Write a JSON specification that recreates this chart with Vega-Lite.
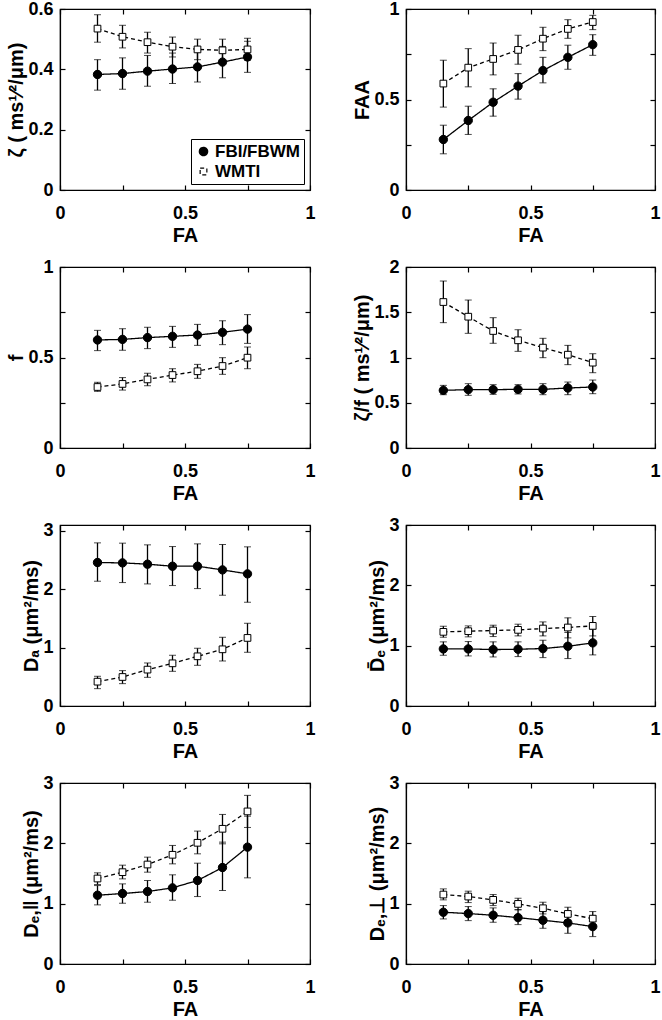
{
"$schema": "https://vega.github.io/schema/vega-lite/v6.json",
"padding": {"left": 6, "top": -1, "right": 0, "bottom": 0},
"datasets": {"d": [
{"p":"z","s":"FBI/FBWM","fa":0.15,"v":0.383,"lo":0.331,"hi":0.432},
{"p":"z","s":"FBI/FBWM","fa":0.25,"v":0.386,"lo":0.334,"hi":0.438},
{"p":"z","s":"FBI/FBWM","fa":0.35,"v":0.394,"lo":0.344,"hi":0.446},
{"p":"z","s":"FBI/FBWM","fa":0.45,"v":0.401,"lo":0.353,"hi":0.454},
{"p":"z","s":"FBI/FBWM","fa":0.55,"v":0.408,"lo":0.358,"hi":0.46},
{"p":"z","s":"FBI/FBWM","fa":0.65,"v":0.424,"lo":0.372,"hi":0.476},
{"p":"z","s":"FBI/FBWM","fa":0.75,"v":0.441,"lo":0.39,"hi":0.493},
{"p":"z","s":"WMTI","fa":0.15,"v":0.535,"lo":0.49,"hi":0.581},
{"p":"z","s":"WMTI","fa":0.25,"v":0.508,"lo":0.471,"hi":0.546},
{"p":"z","s":"WMTI","fa":0.35,"v":0.49,"lo":0.454,"hi":0.523},
{"p":"z","s":"WMTI","fa":0.45,"v":0.475,"lo":0.441,"hi":0.507},
{"p":"z","s":"WMTI","fa":0.55,"v":0.466,"lo":0.432,"hi":0.5},
{"p":"z","s":"WMTI","fa":0.65,"v":0.463,"lo":0.426,"hi":0.5},
{"p":"z","s":"WMTI","fa":0.75,"v":0.466,"lo":0.43,"hi":0.503},
{"p":"faa","s":"FBI/FBWM","fa":0.15,"v":0.279,"lo":0.2,"hi":0.358},
{"p":"faa","s":"FBI/FBWM","fa":0.25,"v":0.384,"lo":0.307,"hi":0.463},
{"p":"faa","s":"FBI/FBWM","fa":0.35,"v":0.485,"lo":0.408,"hi":0.559},
{"p":"faa","s":"FBI/FBWM","fa":0.45,"v":0.574,"lo":0.502,"hi":0.643},
{"p":"faa","s":"FBI/FBWM","fa":0.55,"v":0.66,"lo":0.592,"hi":0.733},
{"p":"faa","s":"FBI/FBWM","fa":0.65,"v":0.733,"lo":0.667,"hi":0.8},
{"p":"faa","s":"FBI/FBWM","fa":0.75,"v":0.803,"lo":0.744,"hi":0.858},
{"p":"faa","s":"WMTI","fa":0.15,"v":0.588,"lo":0.458,"hi":0.717},
{"p":"faa","s":"WMTI","fa":0.25,"v":0.676,"lo":0.57,"hi":0.781},
{"p":"faa","s":"WMTI","fa":0.35,"v":0.724,"lo":0.636,"hi":0.812},
{"p":"faa","s":"WMTI","fa":0.45,"v":0.774,"lo":0.695,"hi":0.855},
{"p":"faa","s":"WMTI","fa":0.55,"v":0.836,"lo":0.77,"hi":0.899},
{"p":"faa","s":"WMTI","fa":0.65,"v":0.89,"lo":0.838,"hi":0.941},
{"p":"faa","s":"WMTI","fa":0.75,"v":0.928,"lo":0.886,"hi":0.965},
{"p":"f","s":"FBI/FBWM","fa":0.15,"v":0.597,"lo":0.538,"hi":0.65},
{"p":"f","s":"FBI/FBWM","fa":0.25,"v":0.6,"lo":0.54,"hi":0.659},
{"p":"f","s":"FBI/FBWM","fa":0.35,"v":0.61,"lo":0.549,"hi":0.667},
{"p":"f","s":"FBI/FBWM","fa":0.45,"v":0.617,"lo":0.556,"hi":0.672},
{"p":"f","s":"FBI/FBWM","fa":0.55,"v":0.624,"lo":0.567,"hi":0.683},
{"p":"f","s":"FBI/FBWM","fa":0.65,"v":0.639,"lo":0.571,"hi":0.703},
{"p":"f","s":"FBI/FBWM","fa":0.75,"v":0.657,"lo":0.578,"hi":0.737},
{"p":"f","s":"WMTI","fa":0.15,"v":0.337,"lo":0.313,"hi":0.363},
{"p":"f","s":"WMTI","fa":0.25,"v":0.354,"lo":0.32,"hi":0.389},
{"p":"f","s":"WMTI","fa":0.35,"v":0.379,"lo":0.344,"hi":0.413},
{"p":"f","s":"WMTI","fa":0.45,"v":0.403,"lo":0.365,"hi":0.438},
{"p":"f","s":"WMTI","fa":0.55,"v":0.424,"lo":0.385,"hi":0.462},
{"p":"f","s":"WMTI","fa":0.65,"v":0.453,"lo":0.407,"hi":0.499},
{"p":"f","s":"WMTI","fa":0.75,"v":0.499,"lo":0.438,"hi":0.558},
{"p":"zf","s":"FBI/FBWM","fa":0.15,"v":0.637,"lo":0.589,"hi":0.692},
{"p":"zf","s":"FBI/FBWM","fa":0.25,"v":0.645,"lo":0.582,"hi":0.711},
{"p":"zf","s":"FBI/FBWM","fa":0.35,"v":0.645,"lo":0.593,"hi":0.7},
{"p":"zf","s":"FBI/FBWM","fa":0.45,"v":0.648,"lo":0.597,"hi":0.7},
{"p":"zf","s":"FBI/FBWM","fa":0.55,"v":0.648,"lo":0.589,"hi":0.711},
{"p":"zf","s":"FBI/FBWM","fa":0.65,"v":0.663,"lo":0.589,"hi":0.729},
{"p":"zf","s":"FBI/FBWM","fa":0.75,"v":0.674,"lo":0.6,"hi":0.751},
{"p":"zf","s":"WMTI","fa":0.15,"v":1.613,"lo":1.385,"hi":1.845},
{"p":"zf","s":"WMTI","fa":0.25,"v":1.451,"lo":1.267,"hi":1.635},
{"p":"zf","s":"WMTI","fa":0.35,"v":1.293,"lo":1.157,"hi":1.44},
{"p":"zf","s":"WMTI","fa":0.45,"v":1.19,"lo":1.068,"hi":1.307},
{"p":"zf","s":"WMTI","fa":0.55,"v":1.109,"lo":0.998,"hi":1.212},
{"p":"zf","s":"WMTI","fa":0.65,"v":1.031,"lo":0.921,"hi":1.134},
{"p":"zf","s":"WMTI","fa":0.75,"v":0.943,"lo":0.832,"hi":1.042},
{"p":"da","s":"FBI/FBWM","fa":0.15,"v":2.457,"lo":2.137,"hi":2.794},
{"p":"da","s":"FBI/FBWM","fa":0.25,"v":2.451,"lo":2.114,"hi":2.789},
{"p":"da","s":"FBI/FBWM","fa":0.35,"v":2.429,"lo":2.091,"hi":2.76},
{"p":"da","s":"FBI/FBWM","fa":0.45,"v":2.394,"lo":2.063,"hi":2.731},
{"p":"da","s":"FBI/FBWM","fa":0.55,"v":2.394,"lo":2.011,"hi":2.777},
{"p":"da","s":"FBI/FBWM","fa":0.65,"v":2.331,"lo":1.897,"hi":2.766},
{"p":"da","s":"FBI/FBWM","fa":0.75,"v":2.263,"lo":1.777,"hi":2.726},
{"p":"da","s":"WMTI","fa":0.15,"v":0.417,"lo":0.297,"hi":0.509},
{"p":"da","s":"WMTI","fa":0.25,"v":0.497,"lo":0.383,"hi":0.606},
{"p":"da","s":"WMTI","fa":0.35,"v":0.623,"lo":0.491,"hi":0.737},
{"p":"da","s":"WMTI","fa":0.45,"v":0.731,"lo":0.594,"hi":0.869},
{"p":"da","s":"WMTI","fa":0.55,"v":0.851,"lo":0.697,"hi":0.989},
{"p":"da","s":"WMTI","fa":0.65,"v":0.971,"lo":0.771,"hi":1.177},
{"p":"da","s":"WMTI","fa":0.75,"v":1.166,"lo":0.92,"hi":1.417},
{"p":"de","s":"FBI/FBWM","fa":0.15,"v":0.946,"lo":0.841,"hi":1.063},
{"p":"de","s":"FBI/FBWM","fa":0.25,"v":0.946,"lo":0.83,"hi":1.068},
{"p":"de","s":"FBI/FBWM","fa":0.35,"v":0.935,"lo":0.813,"hi":1.063},
{"p":"de","s":"FBI/FBWM","fa":0.45,"v":0.941,"lo":0.819,"hi":1.063},
{"p":"de","s":"FBI/FBWM","fa":0.55,"v":0.952,"lo":0.802,"hi":1.09},
{"p":"de","s":"FBI/FBWM","fa":0.65,"v":0.99,"lo":0.786,"hi":1.218},
{"p":"de","s":"FBI/FBWM","fa":0.75,"v":1.046,"lo":0.847,"hi":1.273},
{"p":"de","s":"WMTI","fa":0.15,"v":1.229,"lo":1.14,"hi":1.322},
{"p":"de","s":"WMTI","fa":0.25,"v":1.24,"lo":1.146,"hi":1.328},
{"p":"de","s":"WMTI","fa":0.35,"v":1.251,"lo":1.151,"hi":1.339},
{"p":"de","s":"WMTI","fa":0.45,"v":1.262,"lo":1.162,"hi":1.356},
{"p":"de","s":"WMTI","fa":0.55,"v":1.284,"lo":1.162,"hi":1.394},
{"p":"de","s":"WMTI","fa":0.65,"v":1.301,"lo":1.129,"hi":1.461},
{"p":"de","s":"WMTI","fa":0.75,"v":1.328,"lo":1.162,"hi":1.483},
{"p":"dpar","s":"FBI/FBWM","fa":0.15,"v":1.14,"lo":0.98,"hi":1.3},
{"p":"dpar","s":"FBI/FBWM","fa":0.25,"v":1.168,"lo":1.007,"hi":1.328},
{"p":"dpar","s":"FBI/FBWM","fa":0.35,"v":1.201,"lo":1.024,"hi":1.384},
{"p":"dpar","s":"FBI/FBWM","fa":0.45,"v":1.262,"lo":1.057,"hi":1.478},
{"p":"dpar","s":"FBI/FBWM","fa":0.55,"v":1.384,"lo":1.118,"hi":1.671},
{"p":"dpar","s":"FBI/FBWM","fa":0.65,"v":1.599,"lo":1.218,"hi":2.02},
{"p":"dpar","s":"FBI/FBWM","fa":0.75,"v":1.937,"lo":1.428,"hi":2.45},
{"p":"dpar","s":"WMTI","fa":0.15,"v":1.417,"lo":1.317,"hi":1.511},
{"p":"dpar","s":"WMTI","fa":0.25,"v":1.522,"lo":1.411,"hi":1.638},
{"p":"dpar","s":"WMTI","fa":0.35,"v":1.649,"lo":1.522,"hi":1.771},
{"p":"dpar","s":"WMTI","fa":0.45,"v":1.81,"lo":1.66,"hi":1.965},
{"p":"dpar","s":"WMTI","fa":0.55,"v":2.009,"lo":1.826,"hi":2.203},
{"p":"dpar","s":"WMTI","fa":0.65,"v":2.241,"lo":1.992,"hi":2.479},
{"p":"dpar","s":"WMTI","fa":0.75,"v":2.529,"lo":2.263,"hi":2.795},
{"p":"dperp","s":"FBI/FBWM","fa":0.15,"v":0.858,"lo":0.747,"hi":0.968},
{"p":"dperp","s":"FBI/FBWM","fa":0.25,"v":0.836,"lo":0.719,"hi":0.952},
{"p":"dperp","s":"FBI/FBWM","fa":0.35,"v":0.808,"lo":0.692,"hi":0.93},
{"p":"dperp","s":"FBI/FBWM","fa":0.45,"v":0.769,"lo":0.653,"hi":0.902},
{"p":"dperp","s":"FBI/FBWM","fa":0.55,"v":0.725,"lo":0.592,"hi":0.885},
{"p":"dperp","s":"FBI/FBWM","fa":0.65,"v":0.681,"lo":0.509,"hi":0.874},
{"p":"dperp","s":"FBI/FBWM","fa":0.75,"v":0.62,"lo":0.454,"hi":0.802},
{"p":"dperp","s":"WMTI","fa":0.15,"v":1.151,"lo":1.063,"hi":1.245},
{"p":"dperp","s":"WMTI","fa":0.25,"v":1.118,"lo":1.018,"hi":1.207},
{"p":"dperp","s":"WMTI","fa":0.35,"v":1.063,"lo":0.968,"hi":1.151},
{"p":"dperp","s":"WMTI","fa":0.45,"v":0.996,"lo":0.897,"hi":1.09},
{"p":"dperp","s":"WMTI","fa":0.55,"v":0.924,"lo":0.83,"hi":1.024},
{"p":"dperp","s":"WMTI","fa":0.65,"v":0.83,"lo":0.73,"hi":0.941},
{"p":"dperp","s":"WMTI","fa":0.75,"v":0.752,"lo":0.642,"hi":0.869}
]},
"data": {"name": "d"},
"columns": 2,
"spacing": {"row": 11, "column": 36},
"resolve": {"legend": {"shape": "independent", "fill": "independent", "size": "independent", "strokeDash": "independent"}},
"concat": [
{"width":250,"height":181,"transform":[{"filter":"datum.p == 'z'"}],"layer":[
 {"mark":{"type":"errorbar","ticks":{"size":7,"color":"black"},"rule":{"color":"black","strokeWidth":1.3}},"encoding":{
  "x":{"field":"fa","type":"quantitative","scale":{"domain":[0,1],"nice":false,"padding":0},"axis":{"orient":"bottom","values":[0,0.25,0.5,0.75,1],"format":"~g","labelExpr":"(datum.value*2) % 1 == 0 ? datum.label : ''","title":"FA"}},
  "y":{"field":"lo","type":"quantitative","scale":{"domain":[0,0.6],"nice":false,"padding":0},"axis":{"orient":"left","values":[0,0.2,0.4,0.6],"format":"~g","title":"ζ ( ms¹⁄²/μm)"}},
  "y2":{"field":"hi"},"detail":{"field":"s"}}},
 {"mark":{"type":"line","color":"black","strokeWidth":1.3},"encoding":{
  "x":{"field":"fa","type":"quantitative","axis":{"orient":"top","values":[0,0.25,0.5,0.75,1],"labels":false,"title":null,"domain":false,"minExtent":0}},
  "y":{"field":"v","type":"quantitative","axis":{"orient":"right","values":[0,0.2,0.4,0.6],"labels":false,"title":null,"domain":false,"minExtent":0}},
  "strokeDash":{"field":"s","type":"nominal","scale":{"domain":["FBI/FBWM","WMTI"],"range":[[1,0],[4,3]]},"legend":{"orient":"bottom-right","title":null,"offset":6,"padding":4,"strokeColor":"black","fillColor":"white","labelFont":"Liberation Sans","labelFontSize":17,"labelFontWeight":"bold","labelColor":"black","symbolSize":324,"symbolStrokeWidth":1.2,"rowPadding":2,"labelOffset":3}}}},
 {"mark":{"type":"point","filled":true,"stroke":"black","strokeWidth":1,"opacity":1},"encoding":{
  "x":{"field":"fa","type":"quantitative","axis":null},"y":{"field":"v","type":"quantitative","axis":null},
  "shape":{"field":"s","type":"nominal","scale":{"domain":["FBI/FBWM","WMTI"],"range":["circle","square"]},"legend":{"orient":"bottom-right","title":null,"offset":6,"padding":4,"strokeColor":"black","fillColor":"white","labelFont":"Liberation Sans","labelFontSize":17,"labelFontWeight":"bold","labelColor":"black","symbolSize":324,"symbolStrokeWidth":1.2,"rowPadding":2,"labelOffset":3}},
  "fill":{"field":"s","type":"nominal","scale":{"domain":["FBI/FBWM","WMTI"],"range":["black","white"]},"legend":{"orient":"bottom-right","title":null,"offset":6,"padding":4,"strokeColor":"black","fillColor":"white","labelFont":"Liberation Sans","labelFontSize":17,"labelFontWeight":"bold","labelColor":"black","symbolSize":324,"symbolStrokeWidth":1.2,"rowPadding":2,"labelOffset":3}},
  "size":{"field":"s","type":"nominal","scale":{"type":"ordinal","domain":["FBI/FBWM","WMTI"],"range":[70,45]},"legend":{"orient":"bottom-right","title":null,"offset":6,"padding":4,"strokeColor":"black","fillColor":"white","labelFont":"Liberation Sans","labelFontSize":17,"labelFontWeight":"bold","labelColor":"black","symbolSize":324,"symbolStrokeWidth":1.2,"rowPadding":2,"labelOffset":3}}}}
]},
{"width":249,"height":181,"transform":[{"filter":"datum.p == 'faa'"}],"layer":[
 {"mark":{"type":"errorbar","ticks":{"size":7,"color":"black"},"rule":{"color":"black","strokeWidth":1.3}},"encoding":{
  "x":{"field":"fa","type":"quantitative","scale":{"domain":[0,1],"nice":false,"padding":0},"axis":{"orient":"bottom","values":[0,0.25,0.5,0.75,1],"format":"~g","labelExpr":"(datum.value*2) % 1 == 0 ? datum.label : ''","title":"FA"}},
  "y":{"field":"lo","type":"quantitative","scale":{"domain":[0,1],"nice":false,"padding":0},"axis":{"orient":"left","values":[0,0.25,0.5,0.75,1],"format":"~g","labelExpr":"(datum.value*2) % 1 == 0 ? datum.label : ''","title":"FAA"}},
  "y2":{"field":"hi"},"detail":{"field":"s"}}},
 {"mark":{"type":"line","color":"black","strokeWidth":1.3},"encoding":{
  "x":{"field":"fa","type":"quantitative","axis":{"orient":"top","values":[0,0.25,0.5,0.75,1],"labels":false,"title":null,"domain":false,"minExtent":0}},
  "y":{"field":"v","type":"quantitative","axis":{"orient":"right","values":[0,0.25,0.5,0.75,1],"labels":false,"title":null,"domain":false,"minExtent":0}},
  "strokeDash":{"field":"s","type":"nominal","scale":{"domain":["FBI/FBWM","WMTI"],"range":[[1,0],[4,3]]},"legend":null}}},
 {"mark":{"type":"point","filled":true,"stroke":"black","strokeWidth":1,"opacity":1},"encoding":{
  "x":{"field":"fa","type":"quantitative","axis":null},"y":{"field":"v","type":"quantitative","axis":null},
  "shape":{"field":"s","type":"nominal","scale":{"domain":["FBI/FBWM","WMTI"],"range":["circle","square"]},"legend":null},
  "fill":{"field":"s","type":"nominal","scale":{"domain":["FBI/FBWM","WMTI"],"range":["black","white"]},"legend":null},
  "size":{"field":"s","type":"nominal","scale":{"type":"ordinal","domain":["FBI/FBWM","WMTI"],"range":[70,45]},"legend":null}}}
]},
{"width":250,"height":181,"transform":[{"filter":"datum.p == 'f'"}],"layer":[
 {"mark":{"type":"errorbar","ticks":{"size":7,"color":"black"},"rule":{"color":"black","strokeWidth":1.3}},"encoding":{
  "x":{"field":"fa","type":"quantitative","scale":{"domain":[0,1],"nice":false,"padding":0},"axis":{"orient":"bottom","values":[0,0.25,0.5,0.75,1],"format":"~g","labelExpr":"(datum.value*2) % 1 == 0 ? datum.label : ''","title":"FA"}},
  "y":{"field":"lo","type":"quantitative","scale":{"domain":[0,1],"nice":false,"padding":0},"axis":{"orient":"left","values":[0,0.25,0.5,0.75,1],"format":"~g","labelExpr":"(datum.value*2) % 1 == 0 ? datum.label : ''","title":"f"}},
  "y2":{"field":"hi"},"detail":{"field":"s"}}},
 {"mark":{"type":"line","color":"black","strokeWidth":1.3},"encoding":{
  "x":{"field":"fa","type":"quantitative","axis":{"orient":"top","values":[0,0.25,0.5,0.75,1],"labels":false,"title":null,"domain":false,"minExtent":0}},
  "y":{"field":"v","type":"quantitative","axis":{"orient":"right","values":[0,0.25,0.5,0.75,1],"labels":false,"title":null,"domain":false,"minExtent":0}},
  "strokeDash":{"field":"s","type":"nominal","scale":{"domain":["FBI/FBWM","WMTI"],"range":[[1,0],[4,3]]},"legend":null}}},
 {"mark":{"type":"point","filled":true,"stroke":"black","strokeWidth":1,"opacity":1},"encoding":{
  "x":{"field":"fa","type":"quantitative","axis":null},"y":{"field":"v","type":"quantitative","axis":null},
  "shape":{"field":"s","type":"nominal","scale":{"domain":["FBI/FBWM","WMTI"],"range":["circle","square"]},"legend":null},
  "fill":{"field":"s","type":"nominal","scale":{"domain":["FBI/FBWM","WMTI"],"range":["black","white"]},"legend":null},
  "size":{"field":"s","type":"nominal","scale":{"type":"ordinal","domain":["FBI/FBWM","WMTI"],"range":[70,45]},"legend":null}}}
]},
{"width":249,"height":181,"transform":[{"filter":"datum.p == 'zf'"}],"layer":[
 {"mark":{"type":"errorbar","ticks":{"size":7,"color":"black"},"rule":{"color":"black","strokeWidth":1.3}},"encoding":{
  "x":{"field":"fa","type":"quantitative","scale":{"domain":[0,1],"nice":false,"padding":0},"axis":{"orient":"bottom","values":[0,0.25,0.5,0.75,1],"format":"~g","labelExpr":"(datum.value*2) % 1 == 0 ? datum.label : ''","title":"FA"}},
  "y":{"field":"lo","type":"quantitative","scale":{"domain":[0,2],"nice":false,"padding":0},"axis":{"orient":"left","values":[0,0.5,1,1.5,2],"format":"~g","title":"ζ/f ( ms¹⁄²/μm)"}},
  "y2":{"field":"hi"},"detail":{"field":"s"}}},
 {"mark":{"type":"line","color":"black","strokeWidth":1.3},"encoding":{
  "x":{"field":"fa","type":"quantitative","axis":{"orient":"top","values":[0,0.25,0.5,0.75,1],"labels":false,"title":null,"domain":false,"minExtent":0}},
  "y":{"field":"v","type":"quantitative","axis":{"orient":"right","values":[0,0.5,1,1.5,2],"labels":false,"title":null,"domain":false,"minExtent":0}},
  "strokeDash":{"field":"s","type":"nominal","scale":{"domain":["FBI/FBWM","WMTI"],"range":[[1,0],[4,3]]},"legend":null}}},
 {"mark":{"type":"point","filled":true,"stroke":"black","strokeWidth":1,"opacity":1},"encoding":{
  "x":{"field":"fa","type":"quantitative","axis":null},"y":{"field":"v","type":"quantitative","axis":null},
  "shape":{"field":"s","type":"nominal","scale":{"domain":["FBI/FBWM","WMTI"],"range":["circle","square"]},"legend":null},
  "fill":{"field":"s","type":"nominal","scale":{"domain":["FBI/FBWM","WMTI"],"range":["black","white"]},"legend":null},
  "size":{"field":"s","type":"nominal","scale":{"type":"ordinal","domain":["FBI/FBWM","WMTI"],"range":[70,45]},"legend":null}}}
]},
{"width":250,"height":181,"transform":[{"filter":"datum.p == 'da'"}],"layer":[
 {"mark":{"type":"errorbar","ticks":{"size":7,"color":"black"},"rule":{"color":"black","strokeWidth":1.3}},"encoding":{
  "x":{"field":"fa","type":"quantitative","scale":{"domain":[0,1],"nice":false,"padding":0},"axis":{"orient":"bottom","values":[0,0.25,0.5,0.75,1],"format":"~g","labelExpr":"(datum.value*2) % 1 == 0 ? datum.label : ''","title":"FA"}},
  "y":{"field":"lo","type":"quantitative","scale":{"domain":[0,3.1],"nice":false,"padding":0},"axis":{"orient":"left","values":[0,1,2,3],"format":"~g","title":"Dₐ (μm²/ms)"}},
  "y2":{"field":"hi"},"detail":{"field":"s"}}},
 {"mark":{"type":"line","color":"black","strokeWidth":1.3},"encoding":{
  "x":{"field":"fa","type":"quantitative","axis":{"orient":"top","values":[0,0.25,0.5,0.75,1],"labels":false,"title":null,"domain":false,"minExtent":0}},
  "y":{"field":"v","type":"quantitative","axis":{"orient":"right","values":[0,1,2,3],"labels":false,"title":null,"domain":false,"minExtent":0}},
  "strokeDash":{"field":"s","type":"nominal","scale":{"domain":["FBI/FBWM","WMTI"],"range":[[1,0],[4,3]]},"legend":null}}},
 {"mark":{"type":"point","filled":true,"stroke":"black","strokeWidth":1,"opacity":1},"encoding":{
  "x":{"field":"fa","type":"quantitative","axis":null},"y":{"field":"v","type":"quantitative","axis":null},
  "shape":{"field":"s","type":"nominal","scale":{"domain":["FBI/FBWM","WMTI"],"range":["circle","square"]},"legend":null},
  "fill":{"field":"s","type":"nominal","scale":{"domain":["FBI/FBWM","WMTI"],"range":["black","white"]},"legend":null},
  "size":{"field":"s","type":"nominal","scale":{"type":"ordinal","domain":["FBI/FBWM","WMTI"],"range":[70,45]},"legend":null}}}
]},
{"width":249,"height":181,"transform":[{"filter":"datum.p == 'de'"}],"layer":[
 {"mark":{"type":"errorbar","ticks":{"size":7,"color":"black"},"rule":{"color":"black","strokeWidth":1.3}},"encoding":{
  "x":{"field":"fa","type":"quantitative","scale":{"domain":[0,1],"nice":false,"padding":0},"axis":{"orient":"bottom","values":[0,0.25,0.5,0.75,1],"format":"~g","labelExpr":"(datum.value*2) % 1 == 0 ? datum.label : ''","title":"FA"}},
  "y":{"field":"lo","type":"quantitative","scale":{"domain":[0,3],"nice":false,"padding":0},"axis":{"orient":"left","values":[0,1,2,3],"format":"~g","title":"D̄ₑ (μm²/ms)"}},
  "y2":{"field":"hi"},"detail":{"field":"s"}}},
 {"mark":{"type":"line","color":"black","strokeWidth":1.3},"encoding":{
  "x":{"field":"fa","type":"quantitative","axis":{"orient":"top","values":[0,0.25,0.5,0.75,1],"labels":false,"title":null,"domain":false,"minExtent":0}},
  "y":{"field":"v","type":"quantitative","axis":{"orient":"right","values":[0,1,2,3],"labels":false,"title":null,"domain":false,"minExtent":0}},
  "strokeDash":{"field":"s","type":"nominal","scale":{"domain":["FBI/FBWM","WMTI"],"range":[[1,0],[4,3]]},"legend":null}}},
 {"mark":{"type":"point","filled":true,"stroke":"black","strokeWidth":1,"opacity":1},"encoding":{
  "x":{"field":"fa","type":"quantitative","axis":null},"y":{"field":"v","type":"quantitative","axis":null},
  "shape":{"field":"s","type":"nominal","scale":{"domain":["FBI/FBWM","WMTI"],"range":["circle","square"]},"legend":null},
  "fill":{"field":"s","type":"nominal","scale":{"domain":["FBI/FBWM","WMTI"],"range":["black","white"]},"legend":null},
  "size":{"field":"s","type":"nominal","scale":{"type":"ordinal","domain":["FBI/FBWM","WMTI"],"range":[70,45]},"legend":null}}}
]},
{"width":250,"height":181,"transform":[{"filter":"datum.p == 'dpar'"}],"layer":[
 {"mark":{"type":"errorbar","ticks":{"size":7,"color":"black"},"rule":{"color":"black","strokeWidth":1.3}},"encoding":{
  "x":{"field":"fa","type":"quantitative","scale":{"domain":[0,1],"nice":false,"padding":0},"axis":{"orient":"bottom","values":[0,0.25,0.5,0.75,1],"format":"~g","labelExpr":"(datum.value*2) % 1 == 0 ? datum.label : ''","title":"FA"}},
  "y":{"field":"lo","type":"quantitative","scale":{"domain":[0,3],"nice":false,"padding":0},"axis":{"orient":"left","values":[0,1,2,3],"format":"~g","title":"Dₑ,‖ (μm²/ms)"}},
  "y2":{"field":"hi"},"detail":{"field":"s"}}},
 {"mark":{"type":"line","color":"black","strokeWidth":1.3},"encoding":{
  "x":{"field":"fa","type":"quantitative","axis":{"orient":"top","values":[0,0.25,0.5,0.75,1],"labels":false,"title":null,"domain":false,"minExtent":0}},
  "y":{"field":"v","type":"quantitative","axis":{"orient":"right","values":[0,1,2,3],"labels":false,"title":null,"domain":false,"minExtent":0}},
  "strokeDash":{"field":"s","type":"nominal","scale":{"domain":["FBI/FBWM","WMTI"],"range":[[1,0],[4,3]]},"legend":null}}},
 {"mark":{"type":"point","filled":true,"stroke":"black","strokeWidth":1,"opacity":1},"encoding":{
  "x":{"field":"fa","type":"quantitative","axis":null},"y":{"field":"v","type":"quantitative","axis":null},
  "shape":{"field":"s","type":"nominal","scale":{"domain":["FBI/FBWM","WMTI"],"range":["circle","square"]},"legend":null},
  "fill":{"field":"s","type":"nominal","scale":{"domain":["FBI/FBWM","WMTI"],"range":["black","white"]},"legend":null},
  "size":{"field":"s","type":"nominal","scale":{"type":"ordinal","domain":["FBI/FBWM","WMTI"],"range":[70,45]},"legend":null}}}
]},
{"width":249,"height":181,"transform":[{"filter":"datum.p == 'dperp'"}],"layer":[
 {"mark":{"type":"errorbar","ticks":{"size":7,"color":"black"},"rule":{"color":"black","strokeWidth":1.3}},"encoding":{
  "x":{"field":"fa","type":"quantitative","scale":{"domain":[0,1],"nice":false,"padding":0},"axis":{"orient":"bottom","values":[0,0.25,0.5,0.75,1],"format":"~g","labelExpr":"(datum.value*2) % 1 == 0 ? datum.label : ''","title":"FA"}},
  "y":{"field":"lo","type":"quantitative","scale":{"domain":[0,3],"nice":false,"padding":0},"axis":{"orient":"left","values":[0,1,2,3],"format":"~g","title":"Dₑ,⊥ (μm²/ms)"}},
  "y2":{"field":"hi"},"detail":{"field":"s"}}},
 {"mark":{"type":"line","color":"black","strokeWidth":1.3},"encoding":{
  "x":{"field":"fa","type":"quantitative","axis":{"orient":"top","values":[0,0.25,0.5,0.75,1],"labels":false,"title":null,"domain":false,"minExtent":0}},
  "y":{"field":"v","type":"quantitative","axis":{"orient":"right","values":[0,1,2,3],"labels":false,"title":null,"domain":false,"minExtent":0}},
  "strokeDash":{"field":"s","type":"nominal","scale":{"domain":["FBI/FBWM","WMTI"],"range":[[1,0],[4,3]]},"legend":null}}},
 {"mark":{"type":"point","filled":true,"stroke":"black","strokeWidth":1,"opacity":1},"encoding":{
  "x":{"field":"fa","type":"quantitative","axis":null},"y":{"field":"v","type":"quantitative","axis":null},
  "shape":{"field":"s","type":"nominal","scale":{"domain":["FBI/FBWM","WMTI"],"range":["circle","square"]},"legend":null},
  "fill":{"field":"s","type":"nominal","scale":{"domain":["FBI/FBWM","WMTI"],"range":["black","white"]},"legend":null},
  "size":{"field":"s","type":"nominal","scale":{"type":"ordinal","domain":["FBI/FBWM","WMTI"],"range":[70,45]},"legend":null}}}
]}
],
"config": {
 "font": "Liberation Sans",
 "view": {"stroke": "black", "strokeWidth": 1.2},
 "axis": {"labelFont": "Liberation Sans", "labelFontSize": 18, "labelFontWeight": "bold", "labelColor": "black", "titleFont": "Liberation Sans", "titleFontSize": 20, "titleFontWeight": "bold", "titleColor": "black", "domainColor": "black", "tickColor": "black", "tickSize": -5, "tickWidth": 1.2, "domainWidth": 1.2, "grid": false, "labelOverlap": false},
 "axisX": {"labelPadding": 19, "titlePadding": 3, "labelFlush": false},
 "axisY": {"labelPadding": 12, "titlePadding": 1}
}
}
